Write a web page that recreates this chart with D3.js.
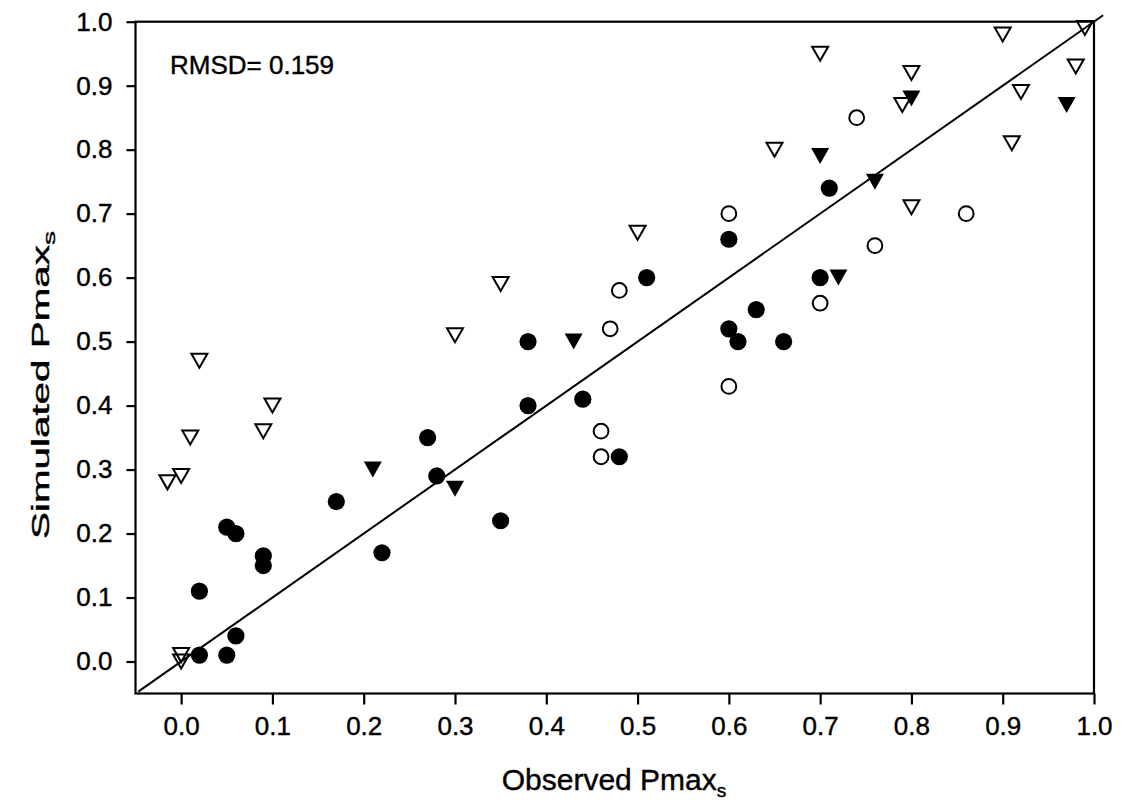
<!DOCTYPE html>
<html>
<head>
<meta charset="utf-8">
<script src="https://cdn.jsdelivr.net/npm/d3@7"></script>
<style>
  html, body { margin: 0; padding: 0; background: #fff; }
  svg { display: block; font-family: "Liberation Sans", Arial, Helvetica, sans-serif; }
  svg text { stroke: #000; stroke-width: 0.4px; }
</style>
</head>
<body>
<svg id="chart" width="1125" height="809"></svg>
<script>
// ---- data (observed, simulated) ----
const filledCircles = [
  [0.02,0.01],[0.05,0.01],[0.06,0.04],[0.02,0.11],[0.09,0.15],[0.09,0.165],
  [0.05,0.21],[0.06,0.20],[0.17,0.25],[0.22,0.17],[0.27,0.35],[0.28,0.29],
  [0.35,0.22],[0.38,0.40],[0.38,0.50],[0.44,0.41],[0.48,0.32],[0.51,0.60],
  [0.60,0.66],[0.60,0.52],[0.61,0.50],[0.63,0.55],[0.66,0.50],[0.70,0.60],
  [0.71,0.74]
];
const openCircles = [
  [0.46,0.32],[0.46,0.36],[0.47,0.52],[0.48,0.58],[0.60,0.43],[0.60,0.70],
  [0.70,0.56],[0.74,0.85],[0.76,0.65],[0.86,0.70]
];
const filledTriangles = [
  [0.21,0.30],[0.30,0.27],[0.43,0.50],[0.70,0.79],[0.72,0.60],[0.76,0.75],
  [0.80,0.88],[0.97,0.87]
];
const openTriangles = [
  [-0.015,0.28],[0.00,0.29],[0.01,0.35],[0.02,0.47],[0.09,0.36],[0.10,0.40],
  [0.00,0.01],[0.00,0.00],[0.30,0.51],[0.35,0.59],[0.50,0.67],[0.65,0.80],
  [0.70,0.95],[0.79,0.87],[0.80,0.92],[0.80,0.71],[0.90,0.98],[0.91,0.81],
  [0.92,0.89],[0.98,0.93],[0.99,0.99]
];
const xTicks = [0.0,0.1,0.2,0.3,0.4,0.5,0.6,0.7,0.8,0.9,1.0];
const yTicks = [0.0,0.1,0.2,0.3,0.4,0.5,0.6,0.7,0.8,0.9,1.0];
const oneToOne = [[-0.047,-0.047],[1.01,1.01]];
const rmsdLabel = "RMSD= 0.159";

// ---- layout ----
const svg = d3.select("#chart");
const L = 135.5, R = 1094, T = 21.7, B = 693.5;
const x = d3.scaleLinear().domain([-0.05, 1.0]).range([L, R]);
const y = d3.scaleLinear().domain([-0.05, 1.0]).range([B, T]);

// frame
svg.append("rect").attr("x", L).attr("y", T).attr("width", R - L).attr("height", B - T)
  .attr("fill", "none").attr("stroke", "#000").attr("stroke-width", 2.2);

// axes
const xAxis = d3.axisBottom(x).tickValues(xTicks).tickFormat(d3.format(".1f"))
  .tickSize(11).tickSizeOuter(0).tickPadding(28);
const gx = svg.append("g").attr("transform", `translate(0,${B})`).call(xAxis);
const yAxis = d3.axisLeft(y).tickValues(yTicks).tickFormat(d3.format(".1f"))
  .tickSize(9).tickSizeOuter(0).tickPadding(14);
const gy = svg.append("g").attr("transform", `translate(${L},0)`).call(yAxis);
[gx, gy].forEach(g => {
  g.select(".domain").remove();
  g.selectAll(".tick line").attr("stroke", "#000").attr("stroke-width", 2.2);
  g.selectAll(".tick text").attr("fill", "#000").style("font-size", "26px");
});
gx.selectAll(".tick text").attr("dy", "0.1em");

// 1:1 line
svg.append("path").datum(oneToOne)
  .attr("d", d3.line().x(d => x(d[0])).y(d => y(d[1])))
  .attr("fill", "none").attr("stroke", "#000").attr("stroke-width", 2);

// markers
const triPath = (w, h) => `M${-w/2},${-h/2}L${w/2},${-h/2}L0,${h/2}Z`;
svg.append("g").selectAll("circle").data(filledCircles).join("circle")
  .attr("cx", d => x(d[0])).attr("cy", d => y(d[1])).attr("r", 8.6)
  .attr("fill", "#000");
svg.append("g").selectAll("circle").data(openCircles).join("circle")
  .attr("cx", d => x(d[0])).attr("cy", d => y(d[1])).attr("r", 7.4)
  .attr("fill", "none").attr("stroke", "#000").attr("stroke-width", 2);
svg.append("g").selectAll("path").data(filledTriangles).join("path")
  .attr("transform", d => `translate(${x(d[0])},${y(d[1])})`)
  .attr("d", triPath(18, 16)).attr("fill", "#000");
svg.append("g").selectAll("path").data(openTriangles).join("path")
  .attr("transform", d => `translate(${x(d[0])},${y(d[1])})`)
  .attr("d", triPath(16, 14)).attr("fill", "none")
  .attr("stroke", "#000").attr("stroke-width", 2).attr("stroke-linejoin", "miter");

// RMSD annotation
svg.append("text").attr("x", 170).attr("y", 74).style("font-size", "26px")
  .attr("fill", "#000").text(rmsdLabel);

// axis titles
const xt = svg.append("text").attr("x", 614).attr("y", 790)
  .attr("text-anchor", "middle").style("font-size", "30px").attr("fill", "#000");
xt.append("tspan").text("Observed Pmax");
xt.append("tspan").attr("dy", 7).style("font-size", "19px").text("s");

const yt = svg.append("text")
  .attr("transform", "translate(49,385) rotate(-90)")
  .attr("text-anchor", "middle").style("font-size", "23px").attr("fill", "#000")
  .attr("textLength", 308).attr("lengthAdjust", "spacingAndGlyphs");
yt.append("tspan").text("Simulated Pmax");
yt.append("tspan").attr("dy", 6).style("font-size", "16px").text("s");
</script>
</body>
</html>
